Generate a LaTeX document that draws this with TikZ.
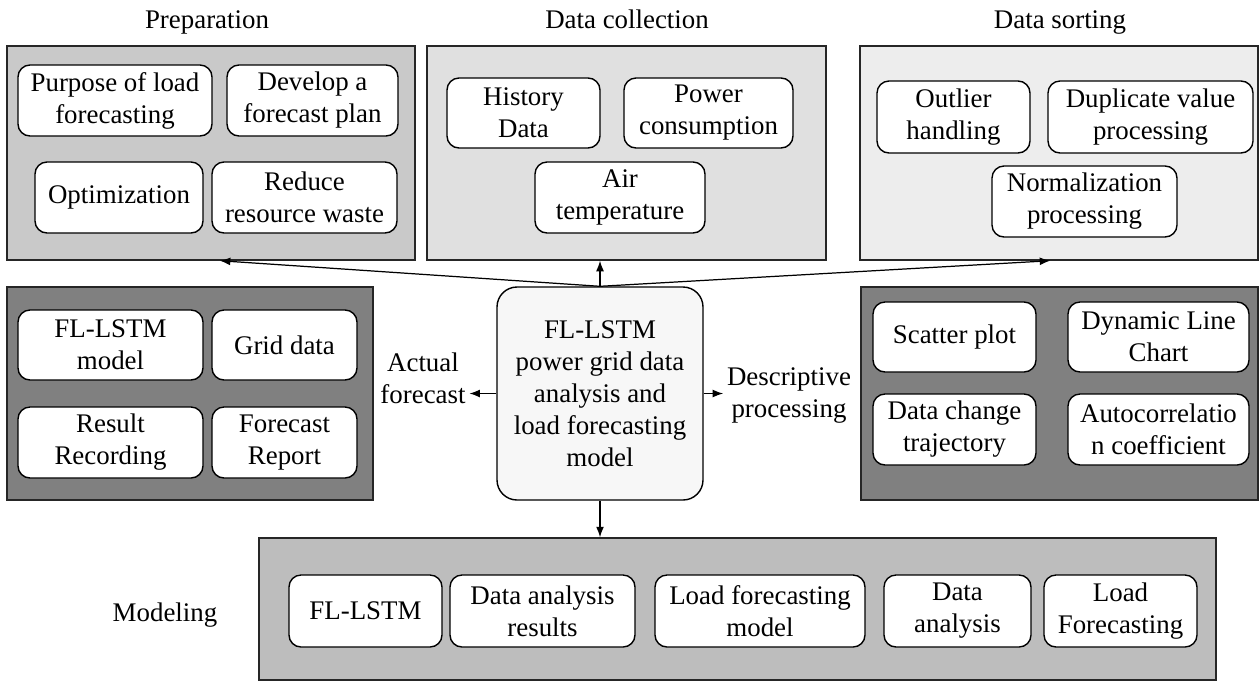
\documentclass[tikz,border=0pt]{standalone}
\usepackage{fontspec}
\setmainfont{Liberation Serif}
\usepackage{tikz}
\usetikzlibrary{arrows.meta,positioning,calc}
\colorlet{cprep}{black!21}
\colorlet{ccoll}{black!12}
\colorlet{csort}{black!7}
\colorlet{cdark}{black!50}
\colorlet{cmodel}{black!26}
\colorlet{ccore}{black!3}
\tikzset{
  sz/.style 2 args={minimum width=#1*0.02cm, minimum height=#2*0.02cm},
  panel/.style={draw=black!85, line width=0.8pt, inner sep=0pt},
  item/.style={draw, fill=white, line width=0.8pt, rounded corners=0.24cm, align=center, inner sep=0pt},
  lbl/.style={align=center, inner sep=2pt},
  conn/.style={line width=0.7pt, -{Latex[length=6pt,width=4.5pt]}},
  every node/.append style={font=\fontsize{15.3}{18.2}\selectfont}
}

\begin{document}
\begin{tikzpicture}[x=0.02cm, y=-0.02cm]
\useasboundingbox (0,0) rectangle (1260,681);
% stage panels
\node[panel, fill=cprep, sz={408}{214}] (prep) at (211,153) {};
\node[panel, fill=ccoll, sz={399}{214}] (coll) at (626.5,153) {};
\node[panel, fill=csort, sz={398}{214}] (sort) at (1059,153) {};
\node[panel, fill=cdark, sz={366}{213}] (fcst) at (190,393.5) {};
\node[panel, fill=cdark, sz={397}{213}] (desc) at (1059.5,393.5) {};
\node[panel, fill=cmodel, sz={957}{142}] (model) at (737.5,609) {};
\node[lbl, anchor=base] (tprep) at (207,28) {Preparation};
\node[lbl, anchor=base] (tcoll) at (627,28) {Data collection};
\node[lbl, anchor=base] (tsort) at (1060,28) {Data sorting};
\node[lbl, anchor=base] (tmodel) at (165,621) {Modeling};
% preparation
\node[item, sz={194}{71}] (purpose) at (115,100.5) {Purpose of load\\forecasting};
\node[item, sz={171}{71}] (plan) at (312.5,100.5) {Develop a\\forecast plan};
\node[item, sz={168}{71}] (optim) at (119,197.5) {Optimization};
\node[item, sz={185}{71}] (waste) at (304.5,197.5) {Reduce\\resource waste};
% data collection
\node[item, sz={153}{70}] (hist) at (523.5,113) {History\\Data};
\node[item, sz={169}{70}] (power) at (708.5,113) {Power\\consumption};
\node[item, sz={170}{71}] (air) at (620,197.5) {Air\\temperature};
% data sorting
\node[item, sz={153}{72}] (outlier) at (953.5,117) {Outlier\\handling};
\node[item, sz={205}{72}] (dupl) at (1150.5,117) {Duplicate value\\processing};
\node[item, sz={185}{71}] (norm) at (1084.5,201.5) {Normalization\\processing};
% actual forecast
\node[item, sz={185}{70}] (flmodel) at (110.5,345) {FL-LSTM\\model};
\node[item, sz={145}{70}] (grid) at (284.5,345) {Grid data};
\node[item, sz={185}{71}] (record) at (110.5,442.5) {Result\\Recording};
\node[item, sz={145}{71}] (report) at (284.5,442.5) {Forecast\\Report};
% descriptive processing
\node[item, sz={163}{70}] (scatter) at (954.5,337) {Scatter plot};
\node[item, sz={181}{70}] (dyn) at (1158.5,337) {Dynamic Line\\Chart};
\node[item, sz={163}{71}] (traj) at (954.5,429.5) {Data change\\trajectory};
\node[item, sz={181}{71}] (autoc) at (1158.5,429.5) {Autocorrelatio\\n coefficient};
% modeling
\node[item, sz={153}{72}] (fl) at (365.5,611) {FL-LSTM};
\node[item, sz={185}{72}] (dares) at (542.5,611) {Data analysis\\results};
\node[item, sz={210}{72}] (lfm) at (760,611) {Load forecasting\\model};
\node[item, sz={147}{72}] (da) at (957.5,611) {Data\\analysis};
\node[item, sz={153}{72}] (lf) at (1120.5,611) {Load\\Forecasting};
% core model
\node[draw, fill=ccore, line width=0.8pt, rounded corners=0.4cm, align=center, inner sep=0pt, sz={206}{213}] (core) at (600,393.5)
  {FL-LSTM\\power grid data\\analysis and\\load forecasting\\model};
\node[lbl] (actual) at (423,378) {Actual\\forecast};
\node[lbl] (descr) at (789,395) {Descriptive\\processing};
% connectors
\draw[conn] (core.north) -- ([xshift=5]prep.south);
\draw[conn] (core.north) -- (core.north |- coll.south);
\draw[conn] (core.north) -- ([xshift=-5]sort.south);
\draw[conn] (core.west) -- (core.west -| actual.east);
\draw[conn] (core.east) -- (core.east -| descr.west);
\draw[conn] (core.south) -- (core.south |- model.north);
\end{tikzpicture}
\end{document}
